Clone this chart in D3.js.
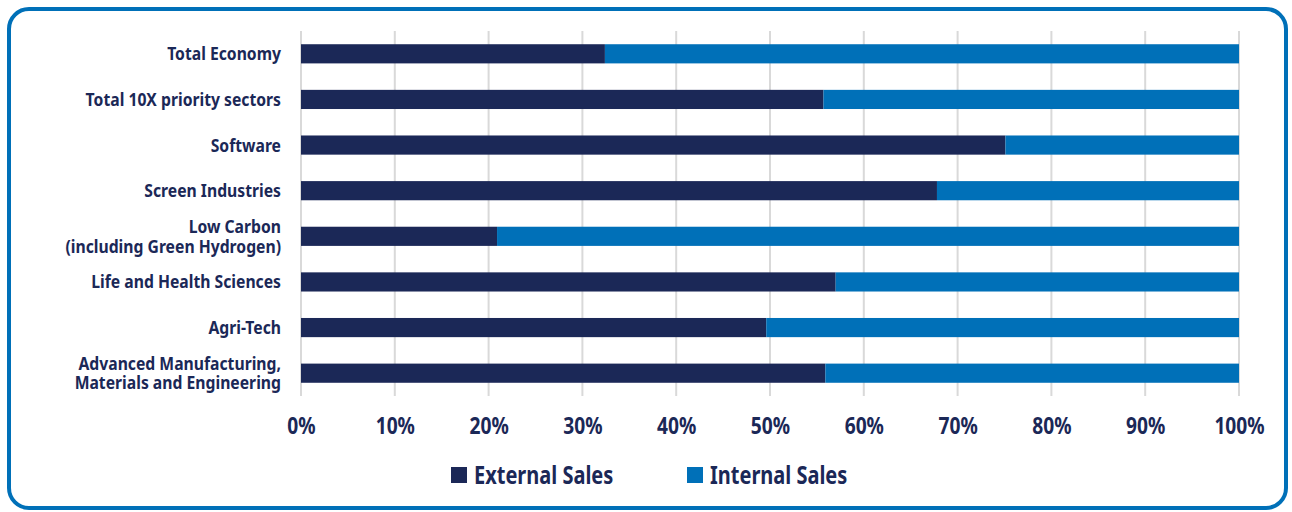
<!DOCTYPE html>
<html>
<head>
<meta charset="utf-8">
<script src="https://cdn.jsdelivr.net/npm/d3@7"></script>
<style>
  body { margin: 0; background: #fff; }
  text { font-family: "Noto Sans", "DejaVu Sans", sans-serif; font-weight: bold; fill: #1B2857; }
</style>
</head>
<body>
<div id="chart"></div>
<script>
// data
var categories = [
  "Total Economy",
  "Total 10X priority sectors",
  "Software",
  "Screen Industries",
  "Low Carbon\n(including Green Hydrogen)",
  "Life and Health Sciences",
  "Agri-Tech",
  "Advanced Manufacturing,\nMaterials and Engineering"
];
var externalSales = [32.4, 55.7, 75.1, 67.8, 20.9, 57.0, 49.6, 55.9];
var internalSales = externalSales.map(d => 100 - d);
var seriesNames = ["External Sales", "Internal Sales"];
var xTicks = [0, 10, 20, 30, 40, 50, 60, 70, 80, 90, 100];

var colors = ["#1B2857", "#0070B8"];
// no condensed font installed, so squeeze text horizontally
var squeeze = 0.8;

var svgWidth = 1292, svgHeight = 512;
var margin = { top: 31, right: 53, bottom: 116, left: 301 };
var width = svgWidth - margin.left - margin.right;
var height = svgHeight - margin.top - margin.bottom;

var svg = d3.select("#chart").append("svg")
  .attr("width", svgWidth)
  .attr("height", svgHeight);

// rounded border
svg.append("rect")
  .attr("x", 9).attr("y", 9)
  .attr("width", 1277).attr("height", 499)
  .attr("rx", 20).attr("ry", 20)
  .attr("fill", "none")
  .attr("stroke", "#0070B8")
  .attr("stroke-width", 4);

var chartGroup = svg.append("g")
  .attr("transform", `translate(${margin.left}, ${margin.top})`);

var x = d3.scaleLinear().domain([0, 100]).range([0, width]);
var y = d3.scaleBand().domain(categories).range([0, height]).paddingInner(0.58).paddingOuter(0.29);

// gridlines
chartGroup.append("g")
  .selectAll("line")
  .data(xTicks)
  .enter().append("line")
  .attr("x1", d => x(d)).attr("x2", d => x(d))
  .attr("y1", 0).attr("y2", height)
  .attr("stroke", "#D9D9D9")
  .attr("stroke-width", 2);

// stacked bars
var rows = categories.map((c, i) => ({ cat: c, ext: externalSales[i], int: internalSales[i] }));
var stack = d3.stack().keys(["ext", "int"]);
var layers = stack(rows);

chartGroup.selectAll(".layer")
  .data(layers)
  .enter().append("g")
  .attr("fill", (d, i) => colors[i])
  .selectAll("rect")
  .data(d => d)
  .enter().append("rect")
  .attr("x", d => x(d[0]))
  .attr("width", d => x(d[1]) - x(d[0]))
  .attr("y", d => y(d.data.cat))
  .attr("height", y.bandwidth());

// category labels
var catLabels = chartGroup.append("g").selectAll("text")
  .data(categories)
  .enter().append("text")
  .attr("text-anchor", "end")
  .attr("font-size", 18.5)
  .attr("transform", d => `translate(-20, ${y(d) + y.bandwidth() / 2}) scale(0.85, 1)`);

catLabels.each(function(d) {
  var lines = d.split("\n");
  var t = d3.select(this);
  lines.forEach((l, i) => {
    t.append("tspan")
      .attr("x", 0)
      .attr("dy", i === 0 ? (lines.length === 1 ? "0.35em" : "-0.2em") : "1.08em")
      .text(l);
  });
});

// x axis
var bottomAxis = d3.axisBottom(x)
  .tickValues(xTicks)
  .tickFormat(d => d + "%")
  .tickSize(0)
  .tickPadding(0);

var xAxis = chartGroup.append("g")
  .attr("transform", `translate(0, ${height})`)
  .call(bottomAxis);
xAxis.select(".domain").remove();
xAxis.selectAll("text")
  .attr("font-size", 24)
  .attr("font-family", null)
  .attr("fill", null)
  .attr("y", null)
  .attr("dy", "0.35em")
  .attr("transform", `translate(0, 30) scale(${squeeze}, 1)`);

// legend
var legendX = [451, 687];
var legend = svg.append("g").selectAll("g")
  .data(seriesNames)
  .enter().append("g")
  .attr("transform", (d, i) => `translate(${legendX[i]}, 467)`);
legend.append("rect")
  .attr("width", 16).attr("height", 16)
  .attr("fill", (d, i) => colors[i]);
legend.append("text")
  .attr("transform", `translate(23, 8) scale(${squeeze}, 1)`)
  .attr("dy", "0.36em")
  .attr("font-size", 25)
  .text(d => d);
</script>
</body>
</html>
